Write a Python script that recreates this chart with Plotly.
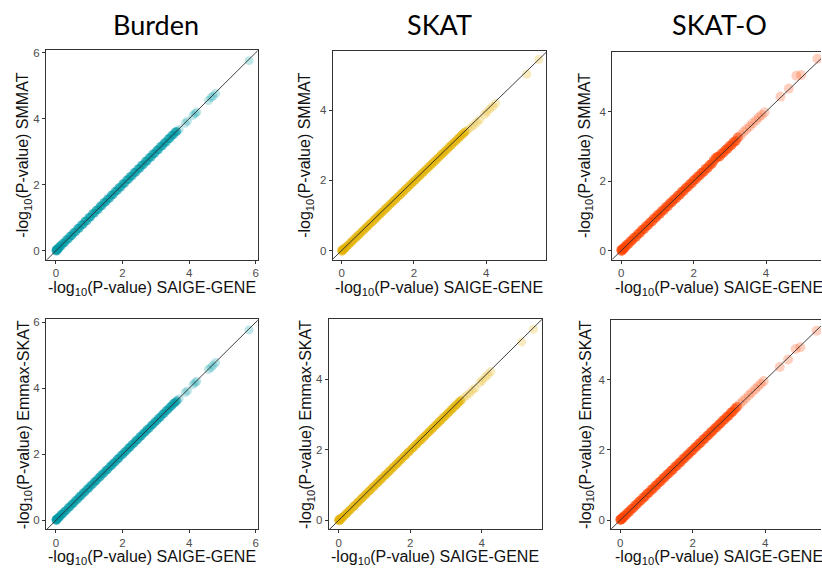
import plotly.graph_objects as go

# ---------------- data ----------------
tests = ["Burden", "SKAT", "SKAT-O"]
row_methods = ["SMMAT", "Emmax-SKAT"]

burden_saige = [
    0.00, 0.01, 0.02, 0.04, 0.06, 0.09, 0.12, 0.16, 0.21, 0.26,
    0.31, 0.37, 0.42, 0.48, 0.53, 0.59, 0.65, 0.70, 0.76, 0.82,
    0.87, 0.93, 0.99, 1.04, 1.10, 1.16, 1.21, 1.27, 1.33, 1.38,
    1.44, 1.50, 1.55, 1.61, 1.67, 1.72, 1.78, 1.84, 1.89, 1.95,
    2.01, 2.06, 2.12, 2.18, 2.23, 2.29, 2.35, 2.40, 2.46, 2.52,
    2.57, 2.63, 2.69, 2.74, 2.80, 2.86, 2.91, 2.97, 3.03, 3.08,
    3.14, 3.20, 3.25, 3.31, 3.37, 3.42, 3.48, 3.53, 3.58, 3.63,
    3.70, 3.88, 3.95, 4.12, 4.18, 4.23, 4.58, 4.66, 4.72, 4.80,
    5.80]
burden_smmat = [
    0.02, -0.01, 0.04, 0.01, 0.08, 0.07, 0.14, 0.15, 0.23, 0.24,
    0.33, 0.35, 0.44, 0.46, 0.55, 0.57, 0.67, 0.68, 0.78, 0.80,
    0.89, 0.91, 1.01, 1.02, 1.12, 1.14, 1.23, 1.25, 1.35, 1.36,
    1.46, 1.48, 1.57, 1.59, 1.69, 1.70, 1.80, 1.82, 1.91, 1.93,
    2.03, 2.04, 2.14, 2.16, 2.25, 2.27, 2.37, 2.38, 2.48, 2.50,
    2.59, 2.61, 2.71, 2.72, 2.82, 2.84, 2.93, 2.95, 3.05, 3.06,
    3.16, 3.18, 3.27, 3.29, 3.39, 3.40, 3.50, 3.51, 3.60, 3.61,
    3.67, 3.86, 3.93, 4.10, 4.16, 4.20, 4.55, 4.64, 4.69, 4.77,
    5.76]
burden_emmax = [
    0.01, 0.03, 0.00, 0.05, 0.05, 0.10, 0.11, 0.18, 0.20, 0.27,
    0.30, 0.38, 0.41, 0.49, 0.52, 0.60, 0.64, 0.71, 0.75, 0.83,
    0.86, 0.94, 0.98, 1.05, 1.09, 1.17, 1.20, 1.28, 1.32, 1.39,
    1.43, 1.51, 1.54, 1.62, 1.66, 1.73, 1.77, 1.85, 1.88, 1.96,
    2.00, 2.07, 2.11, 2.19, 2.22, 2.30, 2.34, 2.41, 2.45, 2.53,
    2.56, 2.64, 2.68, 2.75, 2.79, 2.87, 2.90, 2.98, 3.02, 3.09,
    3.13, 3.21, 3.24, 3.32, 3.36, 3.43, 3.47, 3.54, 3.57, 3.62,
    3.68, 3.87, 3.92, 4.11, 4.17, 4.21, 4.57, 4.63, 4.70, 4.78,
    5.77]

skat_saige = [
    0.00, 0.01, 0.03, 0.05, 0.07, 0.10, 0.14, 0.19, 0.24, 0.29,
    0.34, 0.40, 0.45, 0.51, 0.56, 0.62, 0.67, 0.73, 0.78, 0.84,
    0.89, 0.95, 1.00, 1.06, 1.11, 1.17, 1.22, 1.28, 1.33, 1.39,
    1.44, 1.50, 1.55, 1.61, 1.66, 1.72, 1.77, 1.83, 1.88, 1.94,
    1.99, 2.05, 2.10, 2.16, 2.21, 2.27, 2.32, 2.38, 2.43, 2.49,
    2.54, 2.60, 2.65, 2.71, 2.76, 2.82, 2.87, 2.93, 2.98, 3.04,
    3.09, 3.15, 3.20, 3.26, 3.31, 3.37, 3.42, 3.50, 3.58, 3.66,
    3.74, 3.82, 3.95, 4.02, 4.10, 4.18, 4.26, 5.12, 5.45]
skat_smmat = [
    0.01, -0.02, 0.02, 0.02, 0.06, 0.07, 0.12, 0.16, 0.22, 0.26,
    0.32, 0.37, 0.43, 0.48, 0.54, 0.59, 0.65, 0.70, 0.76, 0.81,
    0.87, 0.92, 0.98, 1.03, 1.09, 1.14, 1.20, 1.25, 1.31, 1.36,
    1.42, 1.47, 1.53, 1.58, 1.64, 1.69, 1.75, 1.80, 1.86, 1.91,
    1.97, 2.02, 2.08, 2.13, 2.19, 2.24, 2.30, 2.35, 2.41, 2.46,
    2.52, 2.57, 2.63, 2.68, 2.74, 2.79, 2.85, 2.90, 2.96, 3.01,
    3.07, 3.12, 3.18, 3.23, 3.29, 3.34, 3.39, 3.45, 3.52, 3.58,
    3.66, 3.73, 3.88, 3.95, 4.04, 4.11, 4.20, 5.03, 5.45]
skat_emmax = [
    0.02, -0.01, 0.03, 0.01, 0.05, 0.08, 0.11, 0.17, 0.21, 0.27,
    0.31, 0.38, 0.42, 0.49, 0.53, 0.60, 0.64, 0.71, 0.75, 0.82,
    0.86, 0.93, 0.97, 1.04, 1.08, 1.15, 1.19, 1.26, 1.30, 1.37,
    1.41, 1.48, 1.52, 1.59, 1.63, 1.70, 1.74, 1.81, 1.85, 1.92,
    1.96, 2.03, 2.07, 2.14, 2.18, 2.25, 2.29, 2.36, 2.40, 2.47,
    2.51, 2.58, 2.62, 2.69, 2.73, 2.80, 2.84, 2.91, 2.95, 3.02,
    3.06, 3.13, 3.17, 3.24, 3.28, 3.35, 3.39, 3.46, 3.53, 3.59,
    3.68, 3.74, 3.89, 3.96, 4.05, 4.12, 4.21, 5.05, 5.41]

skato_saige = [
    0.00, 0.01, 0.03, 0.05, 0.08, 0.11, 0.15, 0.20, 0.25, 0.30,
    0.35, 0.41, 0.46, 0.52, 0.57, 0.63, 0.68, 0.74, 0.79, 0.85,
    0.90, 0.96, 1.01, 1.07, 1.12, 1.18, 1.23, 1.29, 1.34, 1.40,
    1.45, 1.51, 1.56, 1.62, 1.67, 1.73, 1.78, 1.84, 1.89, 1.95,
    2.00, 2.06, 2.11, 2.17, 2.22, 2.28, 2.33, 2.39, 2.44, 2.50,
    2.55, 2.61, 2.66, 2.72, 2.77, 2.83, 2.88, 2.94, 2.99, 3.05,
    3.10, 3.16, 3.22, 3.30, 3.38, 3.46, 3.55, 3.63, 3.72, 3.80,
    3.88, 3.96, 4.40, 4.63, 4.84, 4.97, 5.42]
skato_smmat = [
    0.02, -0.01, 0.04, 0.03, 0.09, 0.10, 0.17, 0.19, 0.27, 0.29,
    0.37, 0.40, 0.48, 0.51, 0.59, 0.62, 0.70, 0.73, 0.81, 0.84,
    0.92, 0.95, 1.03, 1.06, 1.14, 1.17, 1.25, 1.28, 1.36, 1.39,
    1.47, 1.50, 1.58, 1.61, 1.69, 1.72, 1.80, 1.83, 1.91, 1.94,
    2.02, 2.05, 2.13, 2.16, 2.24, 2.27, 2.35, 2.38, 2.46, 2.49,
    2.58, 2.66, 2.70, 2.71, 2.79, 2.82, 2.90, 2.93, 3.01, 3.04,
    3.12, 3.15, 3.25, 3.32, 3.41, 3.49, 3.57, 3.66, 3.74, 3.83,
    3.90, 3.98, 4.43, 4.66, 5.03, 5.05, 5.52]
skato_emmax = [
    0.01, 0.02, 0.02, 0.06, 0.07, 0.12, 0.14, 0.21, 0.24, 0.31,
    0.34, 0.42, 0.45, 0.53, 0.56, 0.64, 0.67, 0.75, 0.78, 0.86,
    0.89, 0.97, 1.00, 1.08, 1.11, 1.19, 1.22, 1.30, 1.33, 1.41,
    1.44, 1.52, 1.55, 1.63, 1.66, 1.74, 1.77, 1.85, 1.88, 1.96,
    1.99, 2.07, 2.10, 2.18, 2.21, 2.29, 2.32, 2.40, 2.43, 2.51,
    2.54, 2.62, 2.65, 2.73, 2.76, 2.84, 2.87, 2.95, 2.98, 3.06,
    3.09, 3.17, 3.23, 3.31, 3.39, 3.47, 3.56, 3.64, 3.73, 3.81,
    3.89, 3.97, 4.37, 4.58, 4.88, 4.93, 5.40]

# reference line y = x
diag = [-1, 8]

# ---------------- style / layout ----------------
W, H = 822, 569
colors = ["#009AA6", "#E2B000", "#FF4200"]
msize = [9, 9, 10]
dense_limit = [3.65, 3.45, 3.25]   # beyond this the points are sparse / lighter

def px_x(p):
    return p / W

def px_y(p):
    return 1 - p / H

# panel boxes in pixels (left, right, top, bottom) and axis ranges
panels = [
    dict(box=(46, 258, 47, 258), xr=[-0.30, 6.06], yr=[-0.27, 6.09], right=True),
    dict(box=(333, 547, 48, 258), xr=[-0.25, 5.66], yr=[-0.26, 5.70], right=True),
    dict(box=(613, 822, 49, 258), xr=[-0.25, 5.52], yr=[-0.26, 5.72], right=False),
    dict(box=(46, 258, 318, 529), xr=[-0.30, 6.06], yr=[-0.27, 6.09], right=True),
    dict(box=(329, 543, 318, 529), xr=[-0.28, 5.70], yr=[-0.25, 5.69], right=True),
    dict(box=(612, 822, 319, 529), xr=[-0.25, 5.54], yr=[-0.26, 5.70], right=False),
]
xt_center = [152, 440, 720, 152, 436, 720]
yt_center = [24, 306, 586, 24, 307, 587]
xt_y = [287, 287, 287, 557, 557, 557]

series = [
    (burden_saige, burden_smmat), (skat_saige, skat_smmat), (skato_saige, skato_smmat),
    (burden_saige, burden_emmax), (skat_saige, skat_emmax), (skato_saige, skato_emmax),
]

fig = go.Figure()
layout = dict(
    width=W, height=H,
    margin=dict(l=0, r=0, t=0, b=0),
    paper_bgcolor="white", plot_bgcolor="white",
    showlegend=False,
    font=dict(family="Liberation Sans, Arial, sans-serif", color="#000000"),
)
annotations = []

tick_font = dict(family="Liberation Sans, Arial, sans-serif", size=11.5, color="#4D4D4D")

for i, p in enumerate(panels):
    k = i + 1
    xs, ys = series[i]
    col = colors[i % 3]
    lim = dense_limit[i % 3]
    ops = [0.6 if v <= lim else 0.25 for v in xs]
    xa = "x" if k == 1 else f"x{k}"
    ya = "y" if k == 1 else f"y{k}"
    fig.add_trace(go.Scatter(
        x=xs, y=ys, mode="markers", xaxis=xa, yaxis=ya,
        marker=dict(color=col, size=msize[i % 3], opacity=ops, line=dict(width=0)),
        hoverinfo="skip"))
    fig.add_trace(go.Scatter(
        x=diag, y=diag, mode="lines", xaxis=xa, yaxis=ya,
        line=dict(color="#2a2a2a", width=0.9), hoverinfo="skip"))
    l, r, t, b = p["box"]
    common = dict(showgrid=False, zeroline=False, showline=True, linecolor="#333333",
                  linewidth=1, ticks="outside", ticklen=3, tickcolor="#333333",
                  tickwidth=1, tickfont=tick_font, tick0=0, dtick=2)
    layout["xaxis" if k == 1 else f"xaxis{k}"] = dict(
        common, domain=[px_x(l), min(1.0, px_x(r))], range=p["xr"],
        anchor=ya, mirror=True)
    layout["yaxis" if k == 1 else f"yaxis{k}"] = dict(
        common, domain=[px_y(b), px_y(t)], range=p["yr"],
        anchor=xa, mirror=p["right"])
    method = row_methods[i // 3]
    annotations.append(dict(
        text="-log<sub>10</sub>(P-value) SAIGE-GENE", xref="paper", yref="paper",
        x=px_x(xt_center[i]), y=px_y(xt_y[i]), xanchor="center", yanchor="middle",
        showarrow=False, font=dict(size=16, color="#111111")))
    annotations.append(dict(
        text=f"-log<sub>10</sub>(P-value) {method}", xref="paper", yref="paper",
        x=px_x(yt_center[i]), y=px_y((t + b) / 2), xanchor="center", yanchor="middle",
        textangle=-90, showarrow=False, font=dict(size=16, color="#111111")))

title_x = [156, 440, 720]
for j, name in enumerate(tests):
    annotations.append(dict(
        text=name, xref="paper", yref="paper", x=px_x(title_x[j]), y=px_y(22),
        xanchor="center", yanchor="middle", showarrow=False,
        font=dict(family="Lato, Open Sans, sans-serif", size=27, color="#000000")))

layout["annotations"] = annotations
fig.update_layout(**layout)
fig.write_html("out.html",
               config={"displayModeBar": False},
               post_script="document.body.style.margin='0';document.body.style.overflow='hidden';")
